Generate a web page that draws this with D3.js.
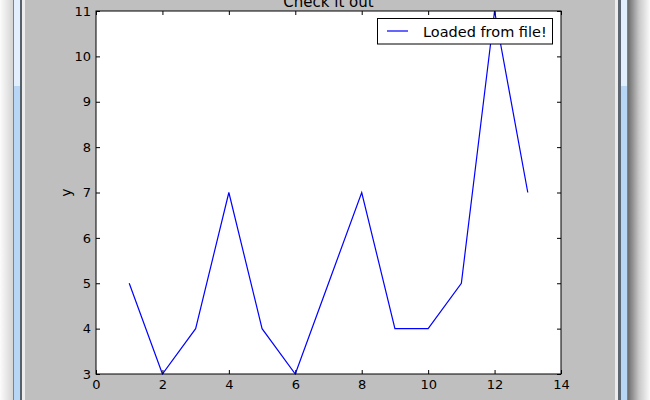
<!DOCTYPE html>
<html><head><meta charset="utf-8">
<script src="https://cdn.jsdelivr.net/npm/d3@7"></script>
<style>
html,body{margin:0;padding:0;background:#bfbfbf;overflow:hidden;}
text{font-family:"DejaVu Sans",sans-serif;fill:#000;}
</style></head>
<body>
<svg id="c" width="650" height="400"></svg>
<script>
const xValues = [1,2,3,4,5,6,7,8,9,10,11,12,13];
const yValues = [5,3,4,7,4,3,5,7,4,4,5,11,7];
const xTicks = [0,2,4,6,8,10,12,14];
const yTicks = [3,4,5,6,7,8,9,10,11];
const title = "Check it out";
const seriesName = "Loaded from file!";

const svg = d3.select("#c");
const W = 650, H = 400;
svg.append("rect").attr("width",W).attr("height",H).attr("fill","#bfbfbf");

// window frame decoration
const lg = svg.append("defs");
const g1 = lg.append("linearGradient").attr("id","shL").attr("x1","0").attr("x2","1");
g1.append("stop").attr("offset","0").attr("stop-color","#fcfcfc");
g1.append("stop").attr("offset","1").attr("stop-color","#d4d4d4");
const g2 = lg.append("linearGradient").attr("id","shR").attr("x1","0").attr("x2","1");
g2.append("stop").attr("offset","0").attr("stop-color","#6c6c6c");
g2.append("stop").attr("offset","0.5").attr("stop-color","#c8c8c8");
g2.append("stop").attr("offset","1").attr("stop-color","#fafafa");
svg.append("rect").attr("x",0).attr("y",0).attr("width",13).attr("height",H).attr("fill","url(#shL)");
svg.append("rect").attr("x",13).attr("y",0).attr("width",1).attr("height",H).attr("fill","#7a838d");
svg.append("rect").attr("x",14).attr("y",0).attr("width",6).attr("height",86).attr("fill","#e3effc");
svg.append("rect").attr("x",14).attr("y",86).attr("width",6).attr("height",H-86).attr("fill","#b7d6f6");
svg.append("rect").attr("x",20).attr("y",0).attr("width",2).attr("height",H).attr("fill","#56606b");
svg.append("rect").attr("x",22).attr("y",0).attr("width",3).attr("height",H).attr("fill","#ececec");

svg.append("rect").attr("x",615).attr("y",0).attr("width",3).attr("height",H).attr("fill","#ececec");
svg.append("rect").attr("x",618).attr("y",0).attr("width",3).attr("height",H).attr("fill","#5d6670");
svg.append("rect").attr("x",621).attr("y",0).attr("width",6).attr("height",86).attr("fill","#e3effc");
svg.append("rect").attr("x",621).attr("y",86).attr("width",6).attr("height",H-86).attr("fill","#b7d6f6");
svg.append("rect").attr("x",627).attr("y",0).attr("width",1).attr("height",H).attr("fill","#7a838d");
svg.append("rect").attr("x",628).attr("y",0).attr("width",22).attr("height",H).attr("fill","url(#shR)");

const L = 96, R = 561, T = 11, B = 374;
const x = d3.scaleLinear().domain([0,14]).range([L,R]);
const y = d3.scaleLinear().domain([3,11]).range([B,T]);

svg.append("rect").attr("x",L).attr("y",T).attr("width",R-L).attr("height",B-T).attr("fill","#fff");

const clip = lg.append("clipPath").attr("id","pc");
clip.append("rect").attr("x",L).attr("y",T-1).attr("width",R-L).attr("height",B-T+2);

const line = d3.line().x((d,i)=>x(xValues[i])).y(d=>y(d));
svg.append("path").datum(yValues).attr("d",line).attr("fill","none")
  .attr("stroke","#0000ff").attr("stroke-width",1.2).attr("clip-path","url(#pc)");

function styleAxis(g){
  g.select(".domain").remove();
  g.selectAll(".tick line").attr("stroke","#000").attr("stroke-width",1);
  g.selectAll(".tick text").attr("font-size",13).attr("font-family","DejaVu Sans").attr("fill","#000");
}
svg.append("g").attr("transform",`translate(0,${B})`)
  .call(d3.axisBottom(x).tickValues(xTicks).tickSizeInner(-4).tickSizeOuter(0).tickPadding(6).tickFormat(d3.format("d")))
  .call(styleAxis);
svg.append("g").attr("transform",`translate(0,${T})`)
  .call(d3.axisTop(x).tickValues(xTicks).tickSizeInner(-4).tickSizeOuter(0).tickFormat(""))
  .call(styleAxis);
svg.append("g").attr("transform",`translate(${L},0)`)
  .call(d3.axisLeft(y).tickValues(yTicks).tickSizeInner(-4).tickSizeOuter(0).tickPadding(5).tickFormat(d3.format("d")))
  .call(styleAxis);
svg.append("g").attr("transform",`translate(${R},0)`)
  .call(d3.axisRight(y).tickValues(yTicks).tickSizeInner(-4).tickSizeOuter(0).tickFormat(""))
  .call(styleAxis);

svg.append("rect").attr("x",L).attr("y",T).attr("width",R-L).attr("height",B-T)
  .attr("fill","none").attr("stroke","#000").attr("stroke-width",1);

svg.append("text").attr("x",(L+R)/2).attr("y",7).attr("text-anchor","middle")
  .attr("font-size",15).text(title);
svg.append("text").attr("x",(L+R)/2).attr("y",409).attr("text-anchor","middle")
  .attr("font-size",14).text("x");
svg.append("text").attr("transform",`translate(71,${(T+B)/2}) rotate(-90)`).attr("text-anchor","middle")
  .attr("font-size",14).text("y");

// legend
const lgd = svg.append("g");
lgd.append("rect").attr("x",377.5).attr("y",18.5).attr("width",175).attr("height",25.5)
  .attr("fill","#fff").attr("stroke","#000").attr("stroke-width",1);
lgd.append("line").attr("x1",387).attr("x2",408).attr("y1",31).attr("y2",31)
  .attr("stroke","#0000ff").attr("stroke-width",1.2);
lgd.append("text").attr("x",423).attr("y",36.5).attr("font-size",14.5).text(seriesName);
</script>
</body></html>
